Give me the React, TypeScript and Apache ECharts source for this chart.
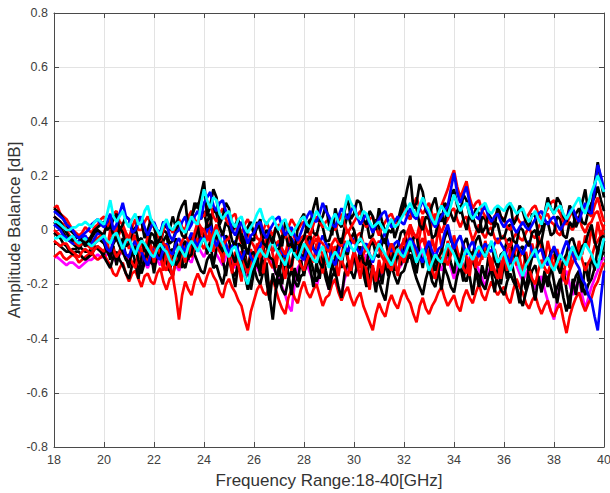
import React, { useEffect, useRef } from "react";
import * as echarts from "echarts";

const START_GHZ = 18;
const STEP_GHZ = 0.125;

const xTicks = [18, 20, 22, 24, 26, 28, 30, 32, 34, 36, 38, 40];
const yTicks = [-0.8, -0.6, -0.4, -0.2, 0, 0.2, 0.4, 0.6, 0.8];

const black1 = [
  0.08,0.07,0.06,0.04,0.02,0.00,-0.01,-0.02,
  -0.03,-0.04,-0.05,-0.04,-0.02,0.00,0.01,0.02,
  0.03,0.00,0.01,0.04,0.06,0.00,0.02,0.05,
  0.04,0.00,-0.01,0.05,0.03,-0.03,0.00,0.04,
  0.02,-0.05,-0.03,0.03,0.01,0.00,0.05,0.01,
  0.06,0.09,0.11,0.00,0.04,0.10,0.08,0.13,
  0.18,0.05,0.09,0.15,0.12,0.02,0.05,0.10,
  0.08,-0.01,0.02,0.04,-0.04,-0.07,0.01,0.03,
  -0.02,0.01,0.04,-0.03,0.00,-0.02,-0.05,0.01,
  -0.02,-0.06,0.03,0.00,-0.04,-0.08,0.01,0.04,
  0.06,-0.01,0.02,0.08,0.12,0.03,0.05,0.09,
  0.02,-0.02,0.08,0.03,0.01,0.07,0.12,0.04,
  0.06,0.11,0.10,0.04,0.02,0.07,0.05,0.00,
  0.08,0.03,-0.01,0.02,0.04,-0.03,0.01,0.06,
  0.09,0.15,0.20,0.08,0.10,0.17,0.14,0.07,
  0.05,0.09,0.12,0.06,0.03,0.10,0.08,0.13,
  0.15,0.09,0.06,0.13,0.11,0.05,0.03,0.08,
  0.06,-0.01,0.01,0.06,0.04,0.01,0.09,0.05,
  0.03,0.07,0.10,0.02,0.04,0.09,0.07,0.03,
  0.01,0.06,0.05,-0.02,0.00,0.06,0.12,0.08,
  0.06,0.12,0.10,0.05,0.03,0.09,0.07,0.01,
  0.04,0.10,0.15,0.06,0.08,0.17,0.25,0.18,
  0.12,
];
const black2 = [
  0.03,0.02,0.01,-0.01,-0.03,-0.04,-0.05,-0.06,
  -0.07,-0.05,-0.04,-0.05,-0.06,-0.04,-0.03,-0.04,
  -0.05,-0.08,-0.10,-0.05,-0.03,-0.06,-0.08,-0.11,
  -0.12,-0.08,-0.06,-0.11,-0.15,-0.10,-0.09,-0.04,
  -0.05,-0.09,-0.10,-0.04,-0.02,-0.08,-0.07,-0.13,
  -0.11,-0.06,-0.04,-0.10,-0.09,-0.03,0.01,-0.05,
  -0.03,0.03,0.06,-0.04,-0.02,-0.06,-0.08,-0.02,
  -0.04,-0.09,-0.12,-0.05,-0.06,-0.11,-0.14,-0.09,
  -0.08,-0.13,-0.15,-0.07,-0.05,-0.10,-0.11,-0.16,
  -0.17,-0.10,-0.08,-0.14,-0.13,-0.06,-0.04,-0.09,
  -0.10,-0.04,-0.02,-0.07,-0.08,-0.12,-0.14,-0.08,
  -0.05,-0.12,-0.11,-0.05,-0.03,-0.08,-0.09,-0.03,
  -0.01,-0.06,-0.07,-0.12,-0.13,-0.06,-0.04,-0.09,
  -0.10,-0.05,-0.03,-0.09,-0.12,-0.07,-0.06,-0.01,
  0.00,-0.05,-0.08,-0.03,-0.02,-0.09,-0.12,-0.07,
  -0.05,-0.11,-0.15,-0.10,-0.08,-0.03,0.00,-0.04,
  -0.06,-0.10,-0.12,-0.05,-0.03,-0.08,-0.09,-0.04,
  -0.02,-0.07,-0.10,-0.06,-0.05,-0.11,-0.14,-0.09,
  -0.08,-0.04,-0.03,-0.09,-0.11,-0.07,-0.06,-0.12,
  -0.15,-0.10,-0.09,-0.05,-0.04,-0.10,-0.12,-0.08,
  -0.07,-0.13,-0.16,-0.11,-0.09,-0.04,-0.03,-0.07,
  -0.10,-0.06,-0.05,-0.01,0.02,-0.04,-0.08,-0.03,
  -0.02,
];
const black3 = [
  -0.01,-0.02,-0.03,-0.05,-0.06,-0.08,-0.09,-0.08,
  -0.08,-0.10,-0.11,-0.10,-0.09,-0.07,-0.06,-0.08,
  -0.10,-0.12,-0.14,-0.10,-0.08,-0.11,-0.13,-0.16,
  -0.18,-0.13,-0.11,-0.14,-0.16,-0.12,-0.09,-0.12,
  -0.13,-0.08,-0.06,-0.10,-0.12,-0.15,-0.17,-0.11,
  -0.08,-0.12,-0.14,-0.09,-0.05,-0.09,-0.12,-0.15,
  -0.16,-0.11,-0.09,-0.14,-0.13,-0.17,-0.20,-0.14,
  -0.11,-0.15,-0.17,-0.12,-0.09,-0.16,-0.22,-0.17,
  -0.14,-0.18,-0.20,-0.15,-0.12,-0.24,-0.33,-0.22,
  -0.18,-0.22,-0.24,-0.18,-0.15,-0.19,-0.21,-0.17,
  -0.16,-0.12,-0.10,-0.15,-0.19,-0.16,-0.13,-0.18,
  -0.22,-0.17,-0.15,-0.21,-0.25,-0.16,-0.12,-0.15,
  -0.18,-0.13,-0.10,-0.16,-0.21,-0.17,-0.14,-0.18,
  -0.19,-0.23,-0.26,-0.18,-0.13,-0.17,-0.20,-0.16,
  -0.15,-0.11,-0.09,-0.14,-0.18,-0.21,-0.24,-0.18,
  -0.14,-0.19,-0.21,-0.15,-0.10,-0.14,-0.17,-0.21,
  -0.23,-0.17,-0.13,-0.17,-0.19,-0.14,-0.11,-0.15,
  -0.17,-0.20,-0.22,-0.17,-0.14,-0.17,-0.19,-0.22,
  -0.24,-0.19,-0.16,-0.19,-0.21,-0.25,-0.28,-0.23,
  -0.19,-0.15,-0.13,-0.18,-0.22,-0.19,-0.17,-0.21,
  -0.25,-0.21,-0.18,-0.25,-0.30,-0.25,-0.21,-0.17,
  -0.15,-0.20,-0.24,-0.20,-0.18,-0.14,-0.12,-0.10,
  -0.08,
];
const black4 = [
  0.05,0.04,0.03,0.01,-0.01,-0.03,-0.04,-0.03,
  -0.02,-0.04,-0.06,-0.05,-0.03,-0.01,0.00,-0.01,
  -0.02,0.03,0.02,-0.02,-0.04,0.01,-0.01,-0.06,
  -0.05,-0.01,0.01,-0.04,-0.03,-0.08,-0.07,-0.01,
  -0.02,-0.07,-0.06,0.00,-0.01,-0.05,-0.04,0.00,
  0.02,-0.02,-0.03,0.03,0.05,0.08,0.10,0.04,
  0.07,0.01,0.02,0.08,0.06,0.01,-0.02,0.03,
  0.01,-0.04,-0.06,0.00,-0.01,-0.05,-0.09,-0.03,
  -0.04,0.03,0.00,-0.05,-0.06,0.00,-0.02,-0.07,
  -0.07,-0.02,-0.01,-0.06,-0.05,-0.10,-0.09,-0.05,
  -0.03,0.02,0.04,-0.01,-0.02,0.03,0.01,-0.04,
  -0.04,0.00,0.02,-0.03,-0.05,0.01,0.06,0.02,
  0.00,-0.05,-0.04,0.02,0.03,-0.03,-0.02,0.04,
  0.01,-0.03,-0.05,0.00,-0.01,0.04,0.03,0.08,
  0.12,0.06,0.04,0.09,0.08,0.02,0.00,0.05,
  0.04,-0.03,-0.02,0.03,0.06,0.02,0.10,0.06,
  0.03,0.07,0.09,0.04,0.00,0.06,0.05,0.01,
  -0.01,0.05,0.04,-0.01,-0.02,0.03,0.02,-0.03,
  -0.03,0.01,0.02,-0.04,-0.05,0.01,0.00,-0.04,
  -0.06,-0.01,0.00,-0.05,-0.04,0.02,0.03,-0.02,
  -0.01,0.05,0.04,-0.02,-0.03,0.03,0.01,0.06,
  0.08,0.03,0.02,0.07,0.10,0.12,0.16,0.11,
  0.07,
];
const black5 = [
  -0.05,-0.05,-0.06,-0.07,-0.08,-0.08,-0.07,-0.07,
  -0.06,-0.07,-0.08,-0.08,-0.07,-0.06,-0.07,-0.08,
  -0.09,-0.04,-0.11,-0.06,-0.13,-0.08,-0.03,-0.10,
  -0.14,-0.07,-0.12,-0.18,-0.10,-0.05,-0.13,-0.08,
  -0.16,-0.09,-0.04,-0.12,-0.07,-0.15,-0.10,-0.03,
  -0.09,-0.14,-0.06,-0.11,-0.02,-0.08,0.03,-0.05,
  -0.01,-0.09,-0.04,-0.13,-0.07,-0.02,-0.11,-0.17,
  -0.09,-0.15,-0.21,-0.12,-0.18,-0.08,-0.14,-0.22,
  -0.15,-0.09,-0.17,-0.11,-0.19,-0.26,-0.16,-0.21,
  -0.13,-0.20,-0.10,-0.16,-0.24,-0.14,-0.19,-0.11,
  -0.17,-0.08,-0.14,-0.21,-0.12,-0.18,-0.09,-0.15,
  -0.20,-0.12,-0.17,-0.08,-0.14,-0.05,-0.11,-0.16,
  -0.09,-0.15,-0.06,-0.12,-0.19,-0.11,-0.16,-0.23,
  -0.14,-0.20,-0.12,-0.17,-0.09,-0.15,-0.08,-0.13,
  -0.06,-0.12,-0.03,-0.10,-0.16,-0.08,-0.14,-0.05,
  -0.11,-0.18,-0.09,-0.15,-0.22,-0.13,-0.07,-0.12,
  -0.16,-0.08,-0.13,-0.19,-0.10,-0.17,-0.24,-0.15,
  -0.21,-0.13,-0.18,-0.10,-0.16,-0.23,-0.14,-0.20,
  -0.12,-0.18,-0.09,-0.15,-0.21,-0.27,-0.17,-0.22,
  -0.14,-0.20,-0.26,-0.17,-0.23,-0.15,-0.21,-0.13,
  -0.19,-0.27,-0.20,-0.14,-0.22,-0.29,-0.18,-0.24,
  -0.16,-0.23,-0.12,-0.19,-0.09,-0.15,-0.06,-0.11,
  -0.04,
];
const red1 = [
  0.08,0.09,0.06,0.05,0.04,0.02,0.00,-0.01,
  -0.02,-0.01,0.01,0.00,-0.01,0.01,0.02,0.04,
  0.05,0.01,0.03,0.06,0.07,0.03,0.02,-0.01,
  -0.03,0.01,0.04,0.00,0.00,0.03,0.05,0.02,
  0.01,-0.02,-0.04,0.00,0.03,0.01,-0.01,0.02,
  0.04,0.01,0.00,0.05,0.07,0.04,0.02,0.06,
  0.05,0.08,0.10,0.05,0.03,0.06,0.08,0.04,
  0.02,0.05,0.06,0.01,-0.01,0.02,0.04,0.01,
  0.00,-0.03,-0.04,0.00,0.03,0.00,-0.02,0.01,
  0.02,-0.01,-0.03,0.01,0.04,0.02,0.00,0.02,
  0.03,0.00,-0.02,0.02,0.05,0.03,0.01,0.03,
  0.04,0.01,0.00,0.03,0.06,0.02,-0.01,0.01,
  0.03,0.05,0.07,0.03,0.01,0.04,0.05,0.01,
  -0.02,0.01,0.03,0.05,0.06,0.03,0.02,0.05,
  0.08,0.05,0.04,0.09,0.12,0.08,0.06,0.08,
  0.10,0.06,0.03,0.07,0.09,0.12,0.15,0.19,
  0.22,0.16,0.12,0.15,0.18,0.12,0.08,0.10,
  0.11,0.07,0.05,0.03,0.02,0.05,0.07,0.05,
  0.04,0.01,0.00,0.03,0.05,0.03,0.02,0.04,
  0.06,0.08,0.09,0.06,0.04,0.06,0.08,0.10,
  0.11,0.08,0.06,0.03,0.02,0.05,0.07,0.05,
  0.04,0.07,0.09,0.06,0.05,0.09,0.12,0.07,
  0.03,
];
const red2 = [
  -0.04,-0.05,-0.06,-0.05,-0.05,-0.07,-0.08,-0.09,
  -0.10,-0.08,-0.07,-0.08,-0.09,-0.07,-0.06,-0.07,
  -0.08,-0.05,-0.03,-0.07,-0.10,-0.08,-0.06,-0.10,
  -0.09,-0.12,-0.14,-0.09,-0.07,-0.10,-0.12,-0.08,
  -0.06,-0.09,-0.10,-0.13,-0.15,-0.11,-0.08,-0.11,
  -0.12,-0.08,-0.05,-0.08,-0.10,-0.06,-0.03,-0.05,
  -0.07,-0.03,-0.01,-0.04,-0.05,-0.08,-0.10,-0.07,
  -0.06,-0.10,-0.13,-0.09,-0.08,-0.12,-0.16,-0.12,
  -0.10,-0.06,-0.04,-0.07,-0.09,-0.12,-0.14,-0.10,
  -0.07,-0.10,-0.12,-0.08,-0.05,-0.08,-0.10,-0.13,
  -0.15,-0.11,-0.08,-0.05,-0.03,-0.07,-0.09,-0.12,
  -0.13,-0.09,-0.06,-0.09,-0.11,-0.14,-0.17,-0.12,
  -0.08,-0.11,-0.14,-0.09,-0.06,-0.09,-0.11,-0.07,
  -0.04,-0.07,-0.10,-0.13,-0.15,-0.10,-0.07,-0.10,
  -0.12,-0.08,-0.05,-0.07,-0.09,-0.05,-0.03,-0.07,
  -0.11,-0.15,-0.18,-0.12,-0.07,-0.10,-0.13,-0.09,
  -0.05,-0.08,-0.10,-0.14,-0.16,-0.11,-0.08,-0.11,
  -0.13,-0.09,-0.06,-0.09,-0.11,-0.15,-0.18,-0.13,
  -0.10,-0.07,-0.05,-0.09,-0.13,-0.10,-0.08,-0.11,
  -0.14,-0.18,-0.20,-0.15,-0.11,-0.14,-0.16,-0.12,
  -0.09,-0.12,-0.14,-0.18,-0.20,-0.15,-0.12,-0.09,
  -0.07,-0.11,-0.15,-0.12,-0.10,-0.06,-0.04,-0.02,
  -0.01,
];
const red3 = [
  -0.10,-0.09,-0.08,-0.10,-0.11,-0.10,-0.09,-0.10,
  -0.12,-0.11,-0.10,-0.09,-0.08,-0.10,-0.11,-0.10,
  -0.09,-0.11,-0.13,-0.16,-0.17,-0.14,-0.12,-0.16,
  -0.19,-0.16,-0.15,-0.18,-0.21,-0.17,-0.16,-0.19,
  -0.20,-0.16,-0.14,-0.19,-0.22,-0.18,-0.17,-0.24,
  -0.33,-0.24,-0.19,-0.22,-0.24,-0.19,-0.16,-0.19,
  -0.21,-0.17,-0.14,-0.17,-0.19,-0.23,-0.25,-0.20,
  -0.18,-0.21,-0.23,-0.26,-0.28,-0.33,-0.37,-0.30,
  -0.26,-0.22,-0.20,-0.23,-0.24,-0.20,-0.18,-0.22,
  -0.26,-0.29,-0.31,-0.25,-0.22,-0.25,-0.27,-0.22,
  -0.19,-0.23,-0.25,-0.22,-0.20,-0.24,-0.28,-0.25,
  -0.24,-0.20,-0.18,-0.23,-0.26,-0.23,-0.21,-0.25,
  -0.28,-0.25,-0.23,-0.28,-0.31,-0.34,-0.37,-0.31,
  -0.27,-0.30,-0.32,-0.27,-0.24,-0.27,-0.29,-0.25,
  -0.22,-0.25,-0.27,-0.31,-0.34,-0.28,-0.25,-0.29,
  -0.31,-0.28,-0.26,-0.23,-0.21,-0.25,-0.28,-0.26,
  -0.24,-0.28,-0.30,-0.25,-0.22,-0.25,-0.27,-0.23,
  -0.20,-0.24,-0.26,-0.22,-0.19,-0.22,-0.24,-0.22,
  -0.21,-0.25,-0.27,-0.22,-0.18,-0.21,-0.23,-0.27,
  -0.29,-0.26,-0.24,-0.28,-0.31,-0.28,-0.26,-0.30,
  -0.32,-0.29,-0.27,-0.33,-0.38,-0.32,-0.28,-0.25,
  -0.23,-0.27,-0.30,-0.27,-0.25,-0.21,-0.19,-0.15,
  -0.12,
];
const red4 = [
  0.05,0.04,0.03,0.02,0.00,-0.02,-0.03,-0.05,
  -0.06,-0.05,-0.04,-0.06,-0.07,-0.05,-0.03,-0.02,
  -0.01,0.02,0.04,0.00,-0.04,-0.01,0.01,-0.03,
  -0.06,-0.03,-0.02,-0.05,-0.08,-0.06,-0.04,-0.07,
  -0.09,-0.05,-0.03,-0.05,-0.06,-0.10,-0.12,-0.09,
  -0.07,-0.04,-0.02,-0.04,-0.05,-0.01,0.03,0.01,
  0.00,-0.03,-0.04,-0.01,0.02,-0.03,-0.06,-0.04,
  -0.03,0.00,0.02,-0.02,-0.05,-0.03,-0.01,-0.04,
  -0.06,-0.09,-0.10,-0.06,-0.03,-0.06,-0.08,-0.05,
  -0.04,-0.07,-0.09,-0.04,0.00,-0.03,-0.05,-0.03,
  -0.02,-0.05,-0.07,-0.03,-0.01,-0.04,-0.05,-0.07,
  -0.08,-0.05,-0.03,-0.05,-0.06,-0.02,0.00,-0.03,
  -0.05,-0.02,-0.01,-0.05,-0.08,-0.05,-0.03,-0.05,
  -0.07,-0.10,-0.12,-0.08,-0.05,-0.08,-0.09,-0.06,
  -0.04,-0.01,0.02,-0.01,-0.03,0.02,0.05,0.01,
  -0.02,0.03,0.06,0.02,-0.01,0.02,0.04,0.07,
  0.08,0.04,0.01,0.04,0.05,0.00,-0.04,-0.01,
  0.02,-0.01,-0.03,0.00,0.01,-0.03,-0.05,-0.03,
  -0.02,-0.05,-0.06,-0.03,-0.01,-0.03,-0.04,-0.01,
  0.01,-0.02,-0.03,0.01,0.03,0.05,0.06,0.03,
  0.02,-0.01,-0.02,0.02,0.04,0.01,0.00,0.03,
  0.05,0.01,-0.01,0.02,0.03,0.06,0.07,0.03,
  0.00,
];
const red5 = [
  0.00,-0.01,-0.02,-0.02,-0.03,-0.04,-0.04,-0.05,
  -0.05,-0.04,-0.04,-0.03,-0.04,-0.05,-0.04,-0.03,
  -0.02,-0.07,0.00,-0.05,0.02,-0.04,-0.09,-0.03,
  -0.07,0.00,-0.05,-0.11,-0.04,-0.08,-0.02,-0.06,
  -0.12,-0.05,-0.09,-0.15,-0.08,-0.13,-0.18,-0.10,
  -0.14,-0.07,-0.12,-0.04,-0.09,-0.02,-0.07,0.01,
  -0.04,0.03,-0.03,-0.08,-0.01,-0.06,-0.12,-0.05,
  -0.10,-0.16,-0.08,-0.13,-0.19,-0.10,-0.15,-0.07,
  -0.12,-0.05,-0.10,-0.16,-0.08,-0.03,-0.09,-0.14,
  -0.07,-0.13,-0.18,-0.09,-0.15,-0.06,-0.11,-0.04,
  -0.09,-0.02,-0.07,-0.12,-0.05,-0.10,-0.16,-0.08,
  -0.13,-0.06,-0.11,-0.17,-0.09,-0.04,-0.10,-0.15,
  -0.07,-0.12,-0.18,-0.10,-0.15,-0.22,-0.13,-0.19,
  -0.11,-0.16,-0.09,-0.14,-0.06,-0.11,-0.17,-0.08,
  -0.03,-0.09,0.02,-0.04,-0.10,-0.02,0.04,-0.05,
  -0.11,-0.03,-0.08,0.01,-0.06,-0.12,-0.04,-0.09,
  -0.02,-0.07,-0.13,-0.05,-0.10,-0.17,-0.08,-0.14,
  -0.06,-0.11,-0.04,-0.09,-0.15,-0.07,-0.12,-0.18,
  -0.09,-0.15,-0.07,-0.12,-0.05,-0.10,-0.16,-0.08,
  -0.13,-0.05,-0.10,-0.02,-0.07,-0.12,-0.04,-0.09,
  -0.15,-0.07,-0.12,-0.18,-0.09,-0.14,-0.06,-0.11,
  -0.04,-0.09,-0.02,-0.07,0.01,-0.05,0.03,-0.03,
  0.02,
];
const blue1 = [
  0.07,0.06,0.05,0.04,0.02,0.01,0.00,-0.02,
  -0.03,-0.02,-0.01,0.00,0.02,0.03,0.04,0.02,
  0.01,0.03,0.06,0.00,0.02,0.06,0.10,0.05,
  0.04,-0.01,0.00,0.03,0.05,0.01,-0.02,0.01,
  0.03,0.00,-0.01,0.03,0.02,-0.02,-0.04,-0.01,
  0.00,0.03,0.05,0.00,0.02,0.05,0.07,0.04,
  0.10,0.12,0.14,0.09,0.07,0.10,0.11,0.07,
  0.04,0.00,-0.02,0.01,0.03,-0.01,-0.05,-0.02,
  -0.01,0.02,0.03,-0.01,-0.03,0.00,0.02,0.04,
  0.05,0.01,-0.02,0.00,0.01,-0.02,-0.04,-0.01,
  0.02,0.05,0.07,0.04,0.03,0.06,0.10,0.07,
  0.05,0.02,0.01,0.05,0.08,0.06,0.04,0.07,
  0.09,0.05,0.02,0.04,0.06,0.02,-0.01,0.02,
  0.04,0.06,0.07,0.03,0.01,0.03,0.05,0.03,
  0.02,0.05,0.08,0.05,0.04,0.08,0.11,0.08,
  0.06,0.03,0.01,0.03,0.05,0.07,0.09,0.15,
  0.21,0.14,0.10,0.13,0.16,0.10,0.06,0.05,
  0.04,0.07,0.09,0.05,0.03,0.05,0.06,0.03,
  0.01,0.03,0.04,0.01,-0.01,0.01,0.03,0.01,
  0.00,0.02,0.04,0.06,0.07,0.04,0.02,0.04,
  0.05,0.02,0.00,0.02,0.04,0.07,0.08,0.05,
  0.03,0.07,0.10,0.07,0.06,0.15,0.24,0.20,
  0.15,
];
const blue2 = [
  0.02,0.01,0.00,-0.02,-0.03,-0.04,-0.05,-0.05,
  -0.04,-0.03,-0.02,-0.04,-0.05,-0.03,-0.01,-0.02,
  -0.04,-0.07,-0.08,-0.04,-0.02,-0.04,-0.06,-0.09,
  -0.10,-0.06,-0.04,-0.07,-0.08,-0.11,-0.13,-0.09,
  -0.07,-0.10,-0.11,-0.07,-0.05,-0.08,-0.09,-0.05,
  -0.03,-0.06,-0.08,-0.04,-0.01,-0.04,-0.06,-0.03,
  -0.04,0.00,0.02,-0.03,-0.06,-0.03,-0.01,-0.05,
  -0.09,-0.06,-0.04,-0.08,-0.11,-0.08,-0.07,-0.10,
  -0.12,-0.08,-0.06,-0.03,-0.02,-0.06,-0.08,-0.06,
  -0.05,-0.08,-0.10,-0.06,-0.03,-0.05,-0.07,-0.10,
  -0.11,-0.07,-0.04,-0.07,-0.09,-0.05,-0.02,-0.05,
  -0.07,-0.11,-0.13,-0.08,-0.04,-0.06,-0.08,-0.05,
  -0.03,-0.07,-0.09,-0.06,-0.05,-0.09,-0.12,-0.08,
  -0.06,-0.03,-0.01,-0.05,-0.08,-0.05,-0.04,-0.07,
  -0.09,-0.05,-0.03,-0.05,-0.07,-0.10,-0.12,-0.07,
  -0.04,-0.08,-0.10,-0.07,-0.06,-0.01,0.02,-0.03,
  -0.07,-0.04,-0.02,-0.06,-0.09,-0.06,-0.04,-0.08,
  -0.10,-0.07,-0.05,-0.07,-0.08,-0.05,-0.03,-0.05,
  -0.07,-0.10,-0.12,-0.08,-0.05,-0.07,-0.09,-0.06,
  -0.04,-0.08,-0.10,-0.08,-0.07,-0.11,-0.13,-0.09,
  -0.06,-0.09,-0.11,-0.07,-0.04,-0.07,-0.09,-0.12,
  -0.14,-0.18,-0.20,-0.24,-0.26,-0.32,-0.37,-0.25,
  -0.15,
];
const cyan1 = [
  0.03,0.03,0.02,0.01,0.00,0.00,0.01,0.01,
  0.02,0.02,0.03,0.02,0.01,0.03,0.04,0.03,
  0.02,0.06,0.11,0.05,0.03,0.05,0.07,0.03,
  0.01,0.04,0.06,0.02,0.03,0.07,0.09,0.04,
  0.02,0.00,-0.02,0.02,0.04,0.01,0.00,0.02,
  0.03,0.00,-0.01,0.02,0.05,0.03,0.02,0.09,
  0.15,0.11,0.08,0.12,0.11,0.06,0.04,0.06,
  0.07,0.03,0.01,0.04,0.05,0.01,-0.01,0.01,
  0.03,0.06,0.08,0.04,0.02,0.04,0.05,0.02,
  0.00,0.03,0.04,0.00,-0.02,0.00,0.02,0.04,
  0.05,0.02,0.01,0.04,0.07,0.05,0.03,0.01,
  0.00,0.04,0.06,0.03,0.02,0.08,0.13,0.10,
  0.08,0.05,0.04,0.07,0.06,0.03,0.01,0.02,
  0.03,0.01,-0.01,0.02,0.04,0.01,0.02,0.04,
  0.06,0.08,0.10,0.07,0.05,0.09,0.12,0.09,
  0.07,0.04,0.02,0.06,0.09,0.07,0.05,0.09,
  0.13,0.10,0.07,0.09,0.10,0.06,0.04,0.06,
  0.08,0.09,0.10,0.07,0.06,0.08,0.09,0.08,
  0.07,0.09,0.10,0.08,0.06,0.07,0.08,0.05,
  0.03,0.05,0.07,0.04,0.02,0.06,0.10,0.08,
  0.06,0.08,0.09,0.06,0.04,0.06,0.08,0.10,
  0.12,0.08,0.06,0.10,0.14,0.17,0.20,0.17,
  0.14,
];
const cyan2 = [
  -0.03,-0.03,-0.02,-0.03,-0.04,-0.03,-0.02,-0.04,
  -0.05,-0.04,-0.03,-0.05,-0.06,-0.05,-0.04,-0.03,
  -0.02,-0.04,-0.05,-0.02,-0.01,-0.04,-0.07,-0.04,
  -0.03,-0.06,-0.09,-0.06,-0.04,-0.05,-0.07,-0.09,
  -0.10,-0.07,-0.05,-0.07,-0.08,-0.11,-0.13,-0.09,
  -0.06,-0.08,-0.10,-0.06,-0.04,-0.06,-0.08,-0.05,
  -0.03,-0.06,-0.08,-0.03,0.00,-0.03,-0.05,-0.08,
  -0.10,-0.07,-0.06,-0.10,-0.13,-0.17,-0.20,-0.15,
  -0.12,-0.09,-0.07,-0.09,-0.10,-0.06,-0.04,-0.07,
  -0.09,-0.11,-0.13,-0.09,-0.07,-0.09,-0.11,-0.08,
  -0.05,-0.07,-0.09,-0.11,-0.12,-0.08,-0.06,-0.10,
  -0.14,-0.10,-0.08,-0.10,-0.11,-0.07,-0.04,-0.06,
  -0.08,-0.05,-0.03,-0.05,-0.07,-0.09,-0.11,-0.08,
  -0.05,-0.07,-0.09,-0.11,-0.13,-0.10,-0.07,-0.09,
  -0.10,-0.07,-0.04,-0.08,-0.12,-0.09,-0.07,-0.11,
  -0.15,-0.12,-0.09,-0.11,-0.12,-0.08,-0.05,-0.07,
  -0.09,-0.12,-0.14,-0.10,-0.07,-0.09,-0.11,-0.08,
  -0.06,-0.08,-0.10,-0.07,-0.04,-0.08,-0.12,-0.10,
  -0.08,-0.12,-0.15,-0.12,-0.10,-0.14,-0.17,-0.13,
  -0.11,-0.09,-0.07,-0.11,-0.14,-0.12,-0.10,-0.13,
  -0.15,-0.12,-0.09,-0.11,-0.13,-0.09,-0.06,-0.09,
  -0.11,-0.08,-0.05,-0.07,-0.09,-0.12,-0.14,-0.08,
  -0.03,
];
const magenta1 = [
  -0.10,-0.10,-0.11,-0.12,-0.13,-0.12,-0.12,-0.13,
  -0.14,-0.13,-0.12,-0.11,-0.11,-0.10,-0.09,-0.10,
  -0.10,-0.09,-0.08,-0.10,-0.12,-0.09,-0.07,-0.09,
  -0.11,-0.08,-0.06,-0.08,-0.10,-0.12,-0.14,-0.11,
  -0.09,-0.11,-0.13,-0.10,-0.07,-0.09,-0.11,-0.13,
  -0.15,-0.12,-0.09,-0.11,-0.12,-0.08,-0.06,-0.08,
  -0.10,-0.07,-0.05,-0.07,-0.09,-0.11,-0.13,-0.10,
  -0.08,-0.11,-0.14,-0.12,-0.10,-0.14,-0.17,-0.14,
  -0.11,-0.14,-0.16,-0.12,-0.09,-0.11,-0.13,-0.16,
  -0.18,-0.21,-0.24,-0.28,-0.30,-0.20,-0.14,-0.12,
  -0.10,-0.13,-0.16,-0.19,-0.21,-0.16,-0.13,-0.17,
  -0.22,-0.19,-0.19,-0.22,-0.24,-0.18,-0.15,-0.12,
  -0.11,-0.14,-0.17,-0.12,-0.09,-0.11,-0.14,-0.17,
  -0.19,-0.15,-0.12,-0.10,-0.08,-0.12,-0.15,-0.13,
  -0.11,-0.08,-0.05,-0.03,-0.02,-0.06,-0.09,-0.11,
  -0.13,-0.10,-0.07,-0.11,-0.15,-0.12,-0.10,-0.14,
  -0.18,-0.14,-0.11,-0.13,-0.14,-0.10,-0.08,-0.12,
  -0.15,-0.18,-0.21,-0.16,-0.12,-0.15,-0.17,-0.13,
  -0.10,-0.08,-0.06,-0.10,-0.13,-0.16,-0.19,-0.16,
  -0.14,-0.18,-0.22,-0.19,-0.17,-0.22,-0.26,-0.30,
  -0.33,-0.26,-0.20,-0.17,-0.15,-0.20,-0.24,-0.21,
  -0.18,-0.24,-0.29,-0.25,-0.21,-0.18,-0.15,-0.12,
  -0.10,
];

const seriesList: { values: number[]; color: string }[] = [
  { values: magenta1, color: "#ff00ff" },
  { values: red3, color: "#ff0000" },
  { values: black3, color: "#000000" },
  { values: black5, color: "#000000" },
  { values: red2, color: "#ff0000" },
  { values: red5, color: "#ff0000" },
  { values: black2, color: "#000000" },
  { values: blue2, color: "#0000ff" },
  { values: red4, color: "#ff0000" },
  { values: black4, color: "#000000" },
  { values: cyan2, color: "#00ffff" },
  { values: red1, color: "#ff0000" },
  { values: black1, color: "#000000" },
  { values: blue1, color: "#0000ff" },
  { values: cyan1, color: "#00ffff" },
];

const FONT = "'Liberation Sans', Arial, Helvetica, sans-serif";
const AXIS_COLOR = "#4a4a4a";
const GRID_COLOR = "#e3e3e3";

export default function App() {
  const ref = useRef<HTMLDivElement>(null);
  useEffect(() => {
    if (!ref.current) return;
    const chart = echarts.init(ref.current, undefined, { renderer: "svg" });
    const fmt = (v: number) => String(Math.round(v * 10) / 10);
    const baseAxisLine = { show: true, onZero: false, lineStyle: { color: AXIS_COLOR, width: 1 } };
    const tick = { show: true, inside: true, length: 5, lineStyle: { color: AXIS_COLOR } };
    chart.setOption({
      animation: false,
      backgroundColor: "#ffffff",
      grid: { left: 54, right: 6, top: 13, bottom: 46, containLabel: false, outerBoundsMode: "none" },
      xAxis: [
        {
          type: "value",
          min: xTicks[0],
          max: xTicks[xTicks.length - 1],
          interval: 2,
          name: "Frequency Range:18-40[GHz]",
          nameLocation: "middle",
          nameGap: 25,
          nameMoveOverlap: false,
          nameTextStyle: { fontFamily: FONT, fontSize: 17, color: "#333333" },
          axisLine: baseAxisLine,
          axisTick: tick,
          axisLabel: { fontFamily: FONT, fontSize: 12.5, color: "#404040", margin: 6 },
          splitLine: { show: true, lineStyle: { color: GRID_COLOR, width: 1 } },
        },
        {
          type: "value",
          position: "top",
          min: xTicks[0],
          max: xTicks[xTicks.length - 1],
          interval: 2,
          axisLine: baseAxisLine,
          axisTick: tick,
          axisLabel: { show: false },
          splitLine: { show: false },
        },
      ],
      yAxis: [
        {
          type: "value",
          min: yTicks[0],
          max: yTicks[yTicks.length - 1],
          interval: 0.2,
          name: "Amplitude Balance [dB]",
          nameLocation: "middle",
          nameGap: 31,
          nameMoveOverlap: false,
          nameTextStyle: { fontFamily: FONT, fontSize: 17, color: "#333333" },
          axisLine: baseAxisLine,
          axisTick: tick,
          axisLabel: { fontFamily: FONT, fontSize: 12.5, color: "#404040", margin: 6, formatter: fmt },
          splitLine: { show: true, lineStyle: { color: GRID_COLOR, width: 1 } },
        },
        {
          type: "value",
          position: "right",
          min: yTicks[0],
          max: yTicks[yTicks.length - 1],
          interval: 0.2,
          axisLine: baseAxisLine,
          axisTick: tick,
          axisLabel: { show: false },
          splitLine: { show: false },
        },
      ],
      series: seriesList.map((s) => ({
        type: "line",
        xAxisIndex: 0,
        yAxisIndex: 0,
        showSymbol: false,
        symbol: "none",
        lineStyle: { color: s.color, width: 2.7 },
        itemStyle: { color: s.color },
        data: s.values.map((v, i) => [START_GHZ + i * STEP_GHZ, v]),
      })),
    });
    return () => chart.dispose();
  }, []);
  return (
    <div
      ref={ref}
      style={{ position: "absolute", left: 0, top: 0, width: 610, height: 493 }}
    />
  );
}
